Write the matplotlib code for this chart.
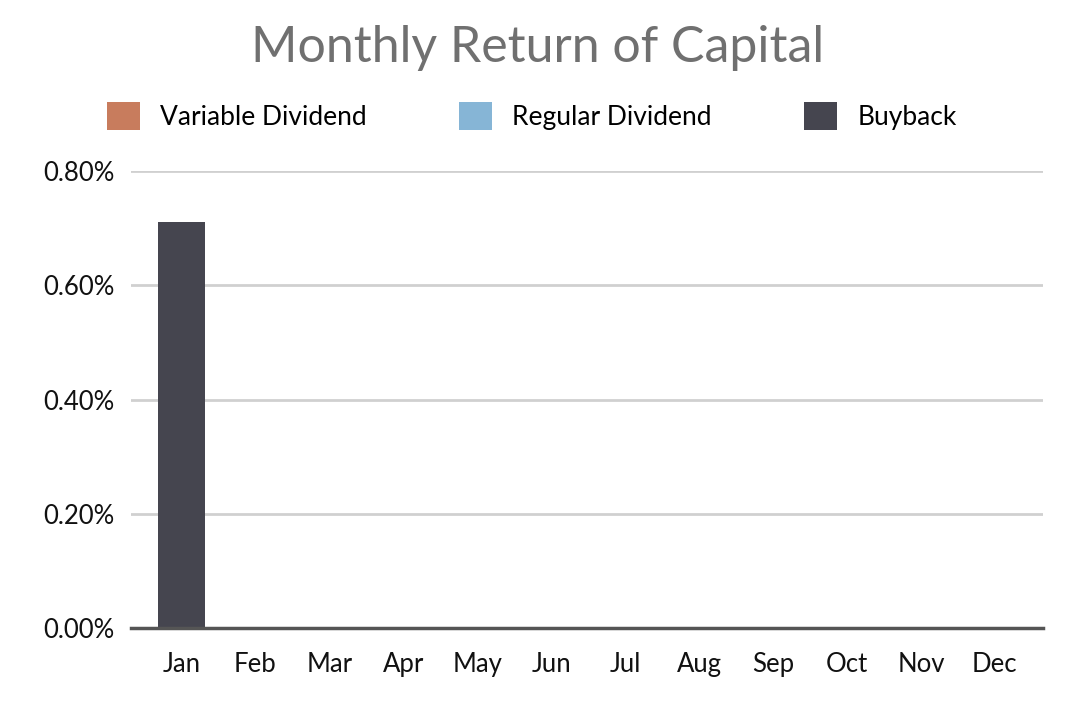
import matplotlib
matplotlib.use("Agg")
import matplotlib.pyplot as plt
from matplotlib.ticker import FuncFormatter
from matplotlib.patches import Patch
import numpy as np

months = ["Jan", "Feb", "Mar", "Apr", "May", "Jun", "Jul", "Aug", "Sep", "Oct", "Nov", "Dec"]
variable_dividend = [0, 0, 0, 0, 0, 0, 0, 0, 0, 0, 0, 0]
regular_dividend = [0, 0, 0, 0, 0, 0, 0, 0, 0, 0, 0, 0]
buyback = [0.71, 0, 0, 0, 0, 0, 0, 0, 0, 0, 0, 0]
yticks = [0.0, 0.2, 0.4, 0.6, 0.8]

c_var = "#C87C5D"
c_reg = "#86B5D6"
c_buy = "#45454F"

plt.rcParams['font.family'] = ['Lato', 'DejaVu Sans']

fig = plt.figure(figsize=(10.73, 7.04), dpi=100)
ax = fig.add_axes([131/1073, 1-628/704, (1043-131)/1073, (628-171)/704])

x = np.arange(len(months))
v = np.array(variable_dividend)
r = np.array(regular_dividend)
b = np.array(buyback)
w = 0.64
ax.bar(x, v, w, color=c_var, zorder=3)
ax.bar(x, r, w, bottom=v, color=c_reg, zorder=3)
ax.bar(x, b, w, bottom=v + r, color=c_buy, zorder=3)

ax.set_xlim(-0.68, 11.65)
ax.set_ylim(0, 0.8)
ax.set_yticks(yticks)
ax.yaxis.set_major_formatter(FuncFormatter(lambda val, p: f"{val:.2f}%"))
ax.set_xticks(x)
ax.set_xticklabels(months)
ax.tick_params(axis='both', length=0, labelsize=18.5, colors='#111111')
ax.tick_params(axis='x', pad=17)
ax.tick_params(axis='y', pad=12)
ax.grid(axis='y', color='#D0D0D0', linewidth=2, zorder=0)
for s in ['top', 'right', 'left']:
    ax.spines[s].set_visible(False)
ax.spines['bottom'].set_color('#555555')
ax.spines['bottom'].set_linewidth(2.5)
ax.spines['bottom'].set_zorder(4)

fig.text(538/1073, 1-48/704, "Monthly Return of Capital", ha='center', va='center',
         fontsize=36, color='#707070')

handles = [Patch(facecolor=c_var), Patch(facecolor=c_reg), Patch(facecolor=c_buy)]
fig.legend(handles, ["Variable Dividend", "Regular Dividend", "Buyback"],
           loc='center', bbox_to_anchor=(532/1073, 1-116/704), ncol=3, frameon=False,
           fontsize=19, handlelength=1.25, handleheight=1.25, handletextpad=0.76,
           columnspacing=3.5)

fig.savefig("out.png", dpi=100)
